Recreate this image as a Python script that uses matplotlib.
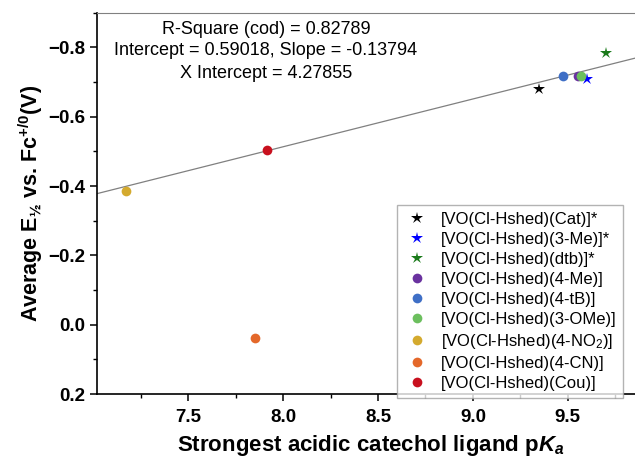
import matplotlib
matplotlib.use("Agg")
import matplotlib.pyplot as plt
from matplotlib.ticker import MultipleLocator

plt.rcParams['font.family'] = ['Liberation Sans', 'DejaVu Sans']
plt.rcParams['mathtext.fontset'] = 'custom'
plt.rcParams['mathtext.rm'] = 'Liberation Sans'
plt.rcParams['mathtext.bf'] = 'Liberation Sans:bold'
plt.rcParams['mathtext.it'] = 'Liberation Sans:italic'
plt.rcParams['mathtext.bfit'] = 'Liberation Sans:italic:bold'

# complexes, pKa of strongest acidic catechol ligand, average E1/2 vs Fc
labels = ['[VO(Cl-Hshed)(Cat)]*', '[VO(Cl-Hshed)(3-Me)]*', '[VO(Cl-Hshed)(dtb)]*',
          '[VO(Cl-Hshed)(4-Me)]', '[VO(Cl-Hshed)(4-tB)]', '[VO(Cl-Hshed)(3-OMe)]',
          '[VO(Cl-Hshed)(4-NO$_2$)]', '[VO(Cl-Hshed)(4-CN)]', '[VO(Cl-Hshed)(Cou)]']
pka = [9.347, 9.60, 9.70, 9.553, 9.474, 9.568, 7.174, 7.853, 7.916]
e_half = [-0.679, -0.708, -0.783, -0.719, -0.719, -0.717, -0.386, 0.037, -0.504]
markers = ['*', '*', '*', 'o', 'o', 'o', 'o', 'o', 'o']
colors = ['black', '#0000ff', '#1a7a1a', '#6a329f', '#3f6fc6', '#6cbf5e',
          '#d4aa2e', '#e4682a', '#c8101e']

# linear fit results
intercept = 0.59018
slope = -0.13794
r_square = 0.82789
x_intercept = 4.27855

xlim = (7.02, 9.9)
ylim = (0.2, -0.9)

fig = plt.figure(figsize=(6.35, 4.61), dpi=100)
ax = fig.add_axes([0.1528, 0.1453, 0.861, 0.827])

xs = [xlim[0], xlim[1]]
ax.plot(xs, [intercept + slope * x for x in xs], color='#808080', lw=0.9, zorder=1)

for i in range(len(labels)):
    ms = 9 if markers[i] == '*' else 7
    ax.plot(pka[i], e_half[i], linestyle='none', marker=markers[i], ms=ms,
            color=colors[i], markeredgewidth=0, label=labels[i], zorder=3)

ax.set_xlim(*xlim)
ax.set_ylim(*ylim)
ax.xaxis.set_major_locator(MultipleLocator(0.5))
ax.xaxis.set_minor_locator(MultipleLocator(0.25))
ax.yaxis.set_major_locator(MultipleLocator(0.2))
ax.yaxis.set_minor_locator(MultipleLocator(0.1))
ax.set_yticks([-0.8, -0.6, -0.4, -0.2, 0.0, 0.2])
ax.set_yticklabels(['\u22120.8', '\u22120.6', '\u22120.4', '\u22120.2', '0.0', '0.2'])

ax.tick_params(which='major', direction='out', length=5, width=1.1, labelsize=13.5)
ax.tick_params(axis='x', which='major', pad=6)
ax.tick_params(which='minor', direction='out', length=3, width=1.0)
for lab in ax.get_xticklabels() + ax.get_yticklabels():
    lab.set_fontweight('bold')

ax.spines['left'].set_linewidth(1.2)
ax.spines['bottom'].set_linewidth(1.2)
ax.spines['top'].set_linewidth(0.8)
ax.spines['top'].set_color('#808080')
ax.spines['right'].set_visible(False)

ax.set_xlabel(r'Strongest acidic catechol ligand p$\mathbfit{K}_{\mathbfit{a}}$',
              fontsize=16, fontweight='bold', labelpad=5)
ax.set_ylabel('Average E$_{\\mathbf{\u00bd}}$ vs. Fc$^{\\mathbf{+/0}}$(V)',
              fontsize=15.5, fontweight='bold', labelpad=2)

ax.text(0.309, 0.957, 'R-Square (cod) = %.5f' % r_square, transform=ax.transAxes,
        ha='center', va='center', fontsize=13)
ax.text(0.309, 0.900, 'Intercept = %.5f, Slope = %.5f' % (intercept, slope),
        transform=ax.transAxes, ha='center', va='center', fontsize=13)
ax.text(0.309, 0.842, 'X Intercept = %.5f' % x_intercept, transform=ax.transAxes,
        ha='center', va='center', fontsize=13)

leg = ax.legend(loc='lower left', bbox_to_anchor=(0.548, -0.01), fontsize=12,
                frameon=True, fancybox=False, borderaxespad=0, labelspacing=0.3,
                handletextpad=0.55, handlelength=1.7, borderpad=0.4)
leg.get_frame().set_edgecolor('#a0a0a0')
leg.get_frame().set_linewidth(1.0)

fig.savefig('out.png', dpi=100)
